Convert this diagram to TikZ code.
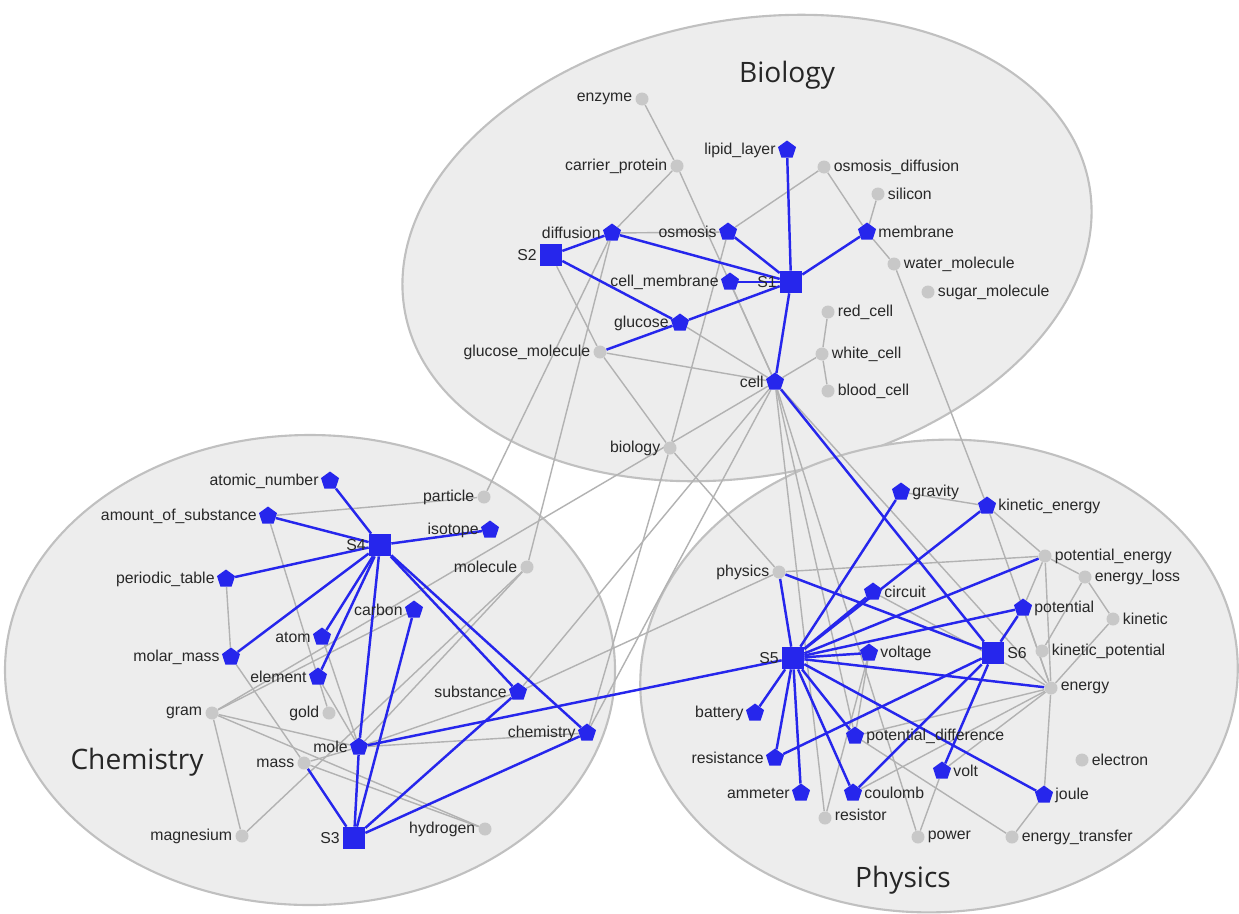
\documentclass[tikz,border=0pt]{standalone}
\usepackage{fontspec}
\setmainfont{Liberation Sans}
\newfontfamily\titlefont{Open Sans}
\usetikzlibrary{shapes.geometric}
\definecolor{netblue}{RGB}{38,38,236}
\definecolor{dotgray}{RGB}{200,200,200}
\definecolor{edgegray}{RGB}{178,178,178}
\definecolor{regionfill}{RGB}{237,237,237}
\definecolor{regionline}{RGB}{192,192,192}
\definecolor{labeltext}{RGB}{40,40,40}
\pgfdeclarelayer{regions}
\pgfdeclarelayer{edges}
\pgfsetlayers{regions,edges,main}

\begin{document}
\begin{tikzpicture}[x=0.02cm,y=-0.02cm,font=\fontsize{9}{10}\selectfont,
  gdot/.style={circle,fill=dotgray,inner sep=0pt,minimum size=0.26cm},
  bpent/.style={regular polygon,regular polygon sides=5,fill=netblue,inner sep=0pt,minimum size=0.38cm},
  snode/.style={rectangle,fill=netblue,inner sep=0pt,minimum size=0.44cm},
  every label/.style={inner sep=1.5pt,text=labeltext},
  gline/.style={draw=edgegray,line width=0.8pt},
  bline/.style={draw=netblue,line width=1.4pt},
  region/.style={fill=regionfill,draw=regionline,line width=1.2pt},
  title/.style={font=\titlefont\fontsize{16}{18}\selectfont,text=black!85}]
  \useasboundingbox (0,0) rectangle (1239,913);

  % regions
  \begin{pgfonlayer}{regions}
    \fill[white] (0,0) rectangle (1239,913);
    \draw[region,rotate around={10.7:(747,248)}] (747,248) ellipse [x radius=348,y radius=228];
    \draw[region] (310,670) ellipse [x radius=305,y radius=235];
    \draw[region,rotate around={4:(939,676)}] (939,676) ellipse [x radius=299,y radius=236];
  \end{pgfonlayer}
  \node[title] (tbio) at (787,75) {Biology};
  \node[title] (tchem) at (137,762) {Chemistry};
  \node[title] (tphys) at (903,880) {Physics};

  % Biology
  \node[gdot,label=left:enzyme] (enzyme) at (642,99) {};
  \node[gdot,label=left:carrier\_protein] (carrierprot) at (677,166) {};
  \node[bpent,label=left:lipid\_layer] (lipid) at (787,150) {};
  \node[gdot,label=right:osmosis\_diffusion] (osmdiff) at (824,167) {};
  \node[gdot,label=right:silicon] (silicon) at (878,194) {};
  \node[bpent,label=left:diffusion] (diffusion) at (612,233) {};
  \node[bpent,label=left:osmosis] (osmosis) at (728,232) {};
  \node[bpent,label=right:membrane] (membrane) at (867,232) {};
  \node[snode,label=left:S2] (S2) at (551,255) {};
  \node[gdot,label=right:water\_molecule] (watermol) at (894,264) {};
  \node[bpent,label=left:cell\_membrane] (cellmem) at (730,282) {};
  \node[snode,label=left:S1] (S1) at (791,282) {};
  \node[gdot,label=right:sugar\_molecule] (sugarmol) at (928,292) {};
  \node[gdot,label=right:red\_cell] (redcell) at (828,312) {};
  \node[bpent,label=left:glucose] (glucose) at (680,323) {};
  \node[gdot,label=left:glucose\_molecule] (glucmol) at (600,352) {};
  \node[gdot,label=right:white\_cell] (whitecell) at (822,354) {};
  \node[bpent,label=left:cell] (cell) at (775,382) {};
  \node[gdot,label=right:blood\_cell] (bloodcell) at (828,391) {};
  \node[gdot,label=left:biology] (biology) at (670,448) {};

  % Chemistry
  \node[bpent,label=left:atomic\_number] (atomicnum) at (330,481) {};
  \node[gdot,label=left:particle] (particle) at (484,497) {};
  \node[bpent,label=left:amount\_of\_substance] (amount) at (268,516) {};
  \node[bpent,label=left:isotope] (isotope) at (490,530) {};
  \node[snode,label=left:S4] (S4) at (380,545) {};
  \node[gdot,label=left:molecule] (molecule) at (527,567) {};
  \node[bpent,label=left:periodic\_table] (periodic) at (226,579) {};
  \node[bpent,label=left:carbon] (carbon) at (414,610) {};
  \node[bpent,label=left:atom] (atom) at (322,637) {};
  \node[bpent,label=left:molar\_mass] (molarmass) at (231,657) {};
  \node[bpent,label=left:element] (element) at (318,677) {};
  \node[bpent,label=left:substance] (substance) at (518,692) {};
  \node[gdot,label=left:gram] (gram) at (212,713) {};
  \node[gdot,label=left:gold] (gold) at (329,713) {};
  \node[bpent,label=left:chemistry] (chemistry) at (587,733) {};
  \node[bpent,label=left:mole] (mole) at (359,747) {};
  \node[gdot,label=left:mass] (mass) at (304,763) {};
  \node[gdot,label=left:magnesium] (magnesium) at (242,836) {};
  \node[snode,label=left:S3] (S3) at (354,838) {};
  \node[gdot,label=left:hydrogen] (hydrogen) at (485,829) {};

  % Physics
  \node[bpent,label=right:gravity] (gravity) at (901,492) {};
  \node[bpent,label=right:kinetic\_energy] (kineticen) at (987,506) {};
  \node[gdot,label=right:potential\_energy] (potentialen) at (1045,556) {};
  \node[gdot,label=left:physics] (physics) at (779,572) {};
  \node[gdot,label=right:energy\_loss] (energyloss) at (1085,577) {};
  \node[bpent,label=right:circuit] (circuit) at (873,592) {};
  \node[bpent,label=right:potential] (potential) at (1023,608) {};
  \node[gdot,label=right:kinetic] (kinetic) at (1113,619) {};
  \node[bpent,label=right:voltage] (voltage) at (869,653) {};
  \node[snode,label=left:S5] (S5) at (793,658) {};
  \node[snode,label=right:S6] (S6) at (993,653) {};
  \node[gdot,label=right:kinetic\_potential] (kineticpot) at (1042,651) {};
  \node[gdot,label=right:energy] (energy) at (1051,688) {};
  \node[bpent,label=left:battery] (battery) at (755,713) {};
  \node[bpent,label=right:potential\_difference] (potdiff) at (855,736) {};
  \node[bpent,label=left:resistance] (resistance) at (775,758) {};
  \node[gdot,label=right:electron] (electron) at (1082,760) {};
  \node[bpent,label=right:volt] (volt) at (942,771) {};
  \node[bpent,label=left:ammeter] (ammeter) at (801,793) {};
  \node[bpent,label=right:coulomb] (coulomb) at (853,793) {};
  \node[bpent,label=right:joule] (joule) at (1044,795) {};
  \node[gdot,label={[yshift=2pt]right:resistor}] (resistor) at (825,818) {};
  \node[gdot,label=right:power] (power) at (918,837) {};
  \node[gdot,label=right:energy\_transfer] (energytr) at (1012,837) {};

  \begin{pgfonlayer}{edges}
    % gray links
    \foreach \a/\b in {enzyme/carrierprot,carrierprot/cell,carrierprot/diffusion,
        diffusion/osmosis,osmosis/osmdiff,osmdiff/membrane,membrane/watermol,
        silicon/membrane,redcell/whitecell,whitecell/bloodcell,whitecell/cell,
        glucmol/cell,glucose/cell,S2/glucmol,glucmol/biology,osmosis/biology,
        cellmem/cell,watermol/kineticen,cell/resistor,cell/potdiff,cell/power,
        cell/energy,biology/physics,diffusion/particle,diffusion/molecule,
        biology/chemistry,cell/substance,cell/gram,cell/chemistry,
        periodic/molarmass,amount/particle,amount/gold,molarmass/mass,atom/mole,
        element/mole,gram/carbon,gram/mole,gram/hydrogen,gram/magnesium,mass/mole,
        mass/hydrogen,magnesium/molecule,substance/mole,chemistry/mole,
        molecule/mole,substance/physics,
        physics/potentialen,gravity/kineticen,kineticen/potentialen,kineticen/energy,
        potentialen/energyloss,energyloss/kinetic,potentialen/energy,
        potentialen/potential,potential/energy,kinetic/energy,kineticpot/energyloss,
        energy/potdiff,energy/coulomb,energy/joule,energy/volt,voltage/potdiff,
        circuit/energy,volt/power,joule/energytr,potdiff/energytr,resistor/voltage}
      \draw[gline] (\a) -- (\b);
    % blue links
    \foreach \a/\b in {S2/diffusion,S2/glucose,diffusion/S1,osmosis/S1,cellmem/S1,
        lipid/S1,membrane/S1,glucose/S1,glucmol/glucose,S1/cell,cell/S6,
        S4/atomicnum,S4/amount,S4/isotope,S4/periodic,S4/molarmass,S4/atom,
        S4/element,S4/mole,S4/substance,S4/chemistry,mole/S3,carbon/S3,
        substance/S3,chemistry/S3,mass/S3,mole/S5,
        S5/gravity,S5/kineticen,S5/circuit,S5/potentialen,S5/potential,S5/voltage,
        S5/energy,S5/physics,S5/battery,S5/resistance,S5/ammeter,S5/coulomb,
        S5/potdiff,S5/joule,
        S6/physics,S6/potential,S6/resistance,S6/coulomb,S6/volt}
      \draw[bline] (\a) -- (\b);
  \end{pgfonlayer}
\end{tikzpicture}
\end{document}
